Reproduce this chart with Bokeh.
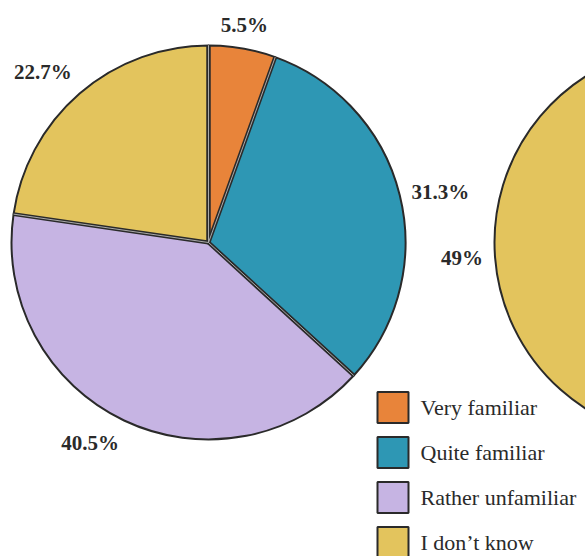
import math
from bokeh.plotting import figure
from bokeh.models import ColumnDataSource, Range1d
from bokeh.core.properties import value
from bokeh.embed import file_html
from bokeh.resources import INLINE

# Survey answers: familiarity with the topic (percent of respondents)
categories = ["Very familiar", "Quite familiar", "Rather unfamiliar", "I don\u2019t know"]
colors = ["#E8843A", "#2E97B4", "#C6B4E3", "#E3C45D"]
pie_left = [5.5, 31.3, 40.5, 22.7]
pie_right = [3.8, 17.1, 28.4, 49.0]
pie_right_labels = ["", "", "", "49%"]
pie_left_labels = ["5.5%", "31.3%", "40.5%", "22.7%"]

W, H = 585, 556
R = 197
INK = "#2a2a2a"
FONT = "Liberation Serif"

p = figure(width=W, height=H, x_range=Range1d(0, W), y_range=Range1d(0, H),
           output_backend="svg", toolbar_location=None, min_border=0)
p.axis.visible = False
p.grid.visible = False
p.outline_line_color = None
p.background_fill_color = "white"
p.border_fill_color = "white"


def draw_pie(cx, cy, values, labels):
    # slices run clockwise from 12 o'clock, sized as a share of 100
    starts, ends = [], []
    acc = 0.0
    for v in values:
        starts.append(acc / 100 * 2 * math.pi)
        acc += v
        ends.append(acc / 100 * 2 * math.pi)
    src = ColumnDataSource(dict(
        x=[cx] * len(values), y=[cy] * len(values),
        start=[math.pi / 2 - s for s in starts],
        end=[math.pi / 2 - e for e in ends],
        color=colors[:len(values)],
    ))
    p.wedge(x="x", y="y", radius=R, start_angle="start", end_angle="end",
            direction="clock", fill_color="color", line_color=INK,
            line_width=2, source=src)

    # doubled separators between slices
    bounds = sorted(set(starts + ends))
    x1 = [cx + R * math.sin(a) for a in bounds]
    y1 = [cy + R * math.cos(a) for a in bounds]
    p.segment(x0=[cx] * len(bounds), y0=[cy] * len(bounds), x1=x1, y1=y1,
              line_color=INK, line_width=4)
    p.segment(x0=[cx] * len(bounds), y0=[cy] * len(bounds), x1=x1, y1=y1,
              line_color="#a9a9a9", line_width=1)

    # value labels just outside each slice
    lx, ly, la, lb, lt = [], [], [], [], []
    for s, e, t in zip(starts, ends, labels):
        if not t:
            continue
        m = (s + e) / 2
        ux, uy = math.sin(m), math.cos(m)
        lx.append(cx + (R + 12) * ux)
        ly.append(cy + (R + 12) * uy)
        la.append("left" if ux > 0.3 else ("right" if ux < -0.3 else "center"))
        lb.append("bottom" if uy > 0.3 else ("top" if uy < -0.3 else "middle"))
        lt.append(t)
    lsrc = ColumnDataSource(dict(x=lx, y=ly, text=lt, align=la, base=lb))
    p.text(x="x", y="y", text="text", text_align="align", text_baseline="base",
           text_font=value(FONT), text_font_style="bold",
           text_font_size="21px", text_color=INK, source=lsrc)


draw_pie(208, H - 242, pie_left, pie_left_labels)
draw_pie(691, H - 242, pie_right, pie_right_labels)

# legend
row_y = [H - (407 + 45 * i) for i in range(len(categories))]
p.rect(x=[392.5] * len(categories), y=row_y, width=31, height=31,
       fill_color=colors, line_color=INK, line_width=2)
p.text(x=[420] * len(categories), y=row_y, text=categories,
       text_align="left", text_baseline="middle",
       text_font=value(FONT), text_font_size="22px", text_color=INK)

open("out.html", "w").write(file_html(p, INLINE))
